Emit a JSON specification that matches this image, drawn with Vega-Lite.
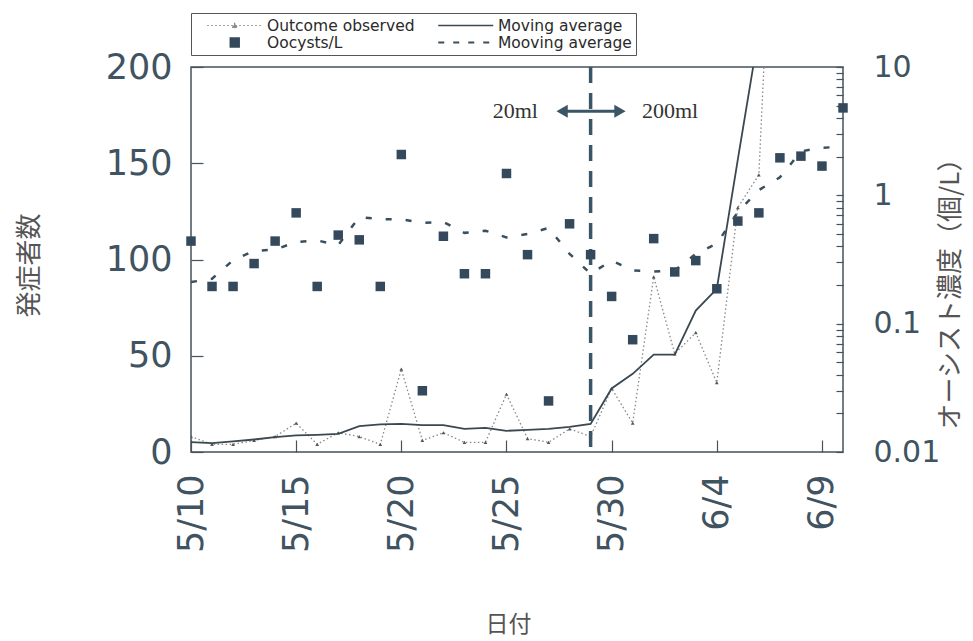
{
  "$schema": "https://vega.github.io/schema/vega-lite/v6.json",
  "width": 652,
  "height": 385,
  "autosize": {"type": "none"},
  "padding": {"left": 191, "top": 67, "right": 130, "bottom": 189},
  "background": "white",
  "config": {
    "view": {"stroke": "#44525c", "strokeWidth": 1.5},
    "font": "DejaVu Sans",
    "axis": {
      "domain": false,
      "grid": false,
      "labelFont": "DejaVu Sans",
      "labelFontSize": 30,
      "labelColor": "#3f5361",
      "tickColor": "#44525c",
      "tickWidth": 1.2,
      "titleFont": "Noto Sans CJK JP",
      "titleFontWeight": "normal",
      "titleFontSize": 26,
      "titleColor": "#555555",
      "labelFlush": false,
      "labelOverlap": false
    }
  },
  "datasets": {
    "obs": [
      {"date": "1996-05-10T00:00", "cases": 8},
      {"date": "1996-05-11T00:00", "cases": 4},
      {"date": "1996-05-12T00:00", "cases": 4},
      {"date": "1996-05-13T00:00", "cases": 6},
      {"date": "1996-05-14T00:00", "cases": 8},
      {"date": "1996-05-15T00:00", "cases": 15},
      {"date": "1996-05-16T00:00", "cases": 4},
      {"date": "1996-05-17T00:00", "cases": 10},
      {"date": "1996-05-18T00:00", "cases": 8},
      {"date": "1996-05-19T00:00", "cases": 4},
      {"date": "1996-05-20T00:00", "cases": 43},
      {"date": "1996-05-21T00:00", "cases": 6},
      {"date": "1996-05-22T00:00", "cases": 10},
      {"date": "1996-05-23T00:00", "cases": 5},
      {"date": "1996-05-24T00:00", "cases": 5},
      {"date": "1996-05-25T00:00", "cases": 30},
      {"date": "1996-05-26T00:00", "cases": 7},
      {"date": "1996-05-27T00:00", "cases": 5},
      {"date": "1996-05-28T00:00", "cases": 12},
      {"date": "1996-05-29T00:00", "cases": 8},
      {"date": "1996-05-30T00:00", "cases": 33},
      {"date": "1996-05-31T00:00", "cases": 15},
      {"date": "1996-06-01T00:00", "cases": 91},
      {"date": "1996-06-02T00:00", "cases": 51},
      {"date": "1996-06-03T00:00", "cases": 62},
      {"date": "1996-06-04T00:00", "cases": 36},
      {"date": "1996-06-05T00:00", "cases": 127},
      {"date": "1996-06-06T00:00", "cases": 144},
      {"date": "1996-06-07T00:00", "cases": 380}
    ],
    "ma": [
      {"date": "1996-05-10T00:00", "cases": 5.1},
      {"date": "1996-05-11T00:00", "cases": 4.6},
      {"date": "1996-05-12T00:00", "cases": 5.5},
      {"date": "1996-05-13T00:00", "cases": 6.5},
      {"date": "1996-05-14T00:00", "cases": 7.7},
      {"date": "1996-05-15T00:00", "cases": 8.6},
      {"date": "1996-05-16T00:00", "cases": 8.9},
      {"date": "1996-05-17T00:00", "cases": 9.4},
      {"date": "1996-05-18T00:00", "cases": 13.4},
      {"date": "1996-05-19T00:00", "cases": 14.3},
      {"date": "1996-05-20T00:00", "cases": 14.6},
      {"date": "1996-05-21T00:00", "cases": 14.0},
      {"date": "1996-05-22T00:00", "cases": 14.0},
      {"date": "1996-05-23T00:00", "cases": 12.0},
      {"date": "1996-05-24T00:00", "cases": 12.5},
      {"date": "1996-05-25T00:00", "cases": 11.0},
      {"date": "1996-05-26T00:00", "cases": 11.5},
      {"date": "1996-05-27T00:00", "cases": 12.0},
      {"date": "1996-05-28T00:00", "cases": 13.0},
      {"date": "1996-05-29T00:00", "cases": 14.6},
      {"date": "1996-05-30T00:00", "cases": 33},
      {"date": "1996-05-31T00:00", "cases": 40.6},
      {"date": "1996-06-01T00:00", "cases": 50.6},
      {"date": "1996-06-02T00:00", "cases": 50.6},
      {"date": "1996-06-03T00:00", "cases": 73.5},
      {"date": "1996-06-04T00:00", "cases": 84.8},
      {"date": "1996-06-05T00:00", "cases": 152},
      {"date": "1996-06-06T00:00", "cases": 218},
      {"date": "1996-06-07T00:00", "cases": 285}
    ],
    "ooc": [
      {"date": "1996-05-10T00:00", "oocysts": 0.44},
      {"date": "1996-05-11T00:00", "oocysts": 0.195},
      {"date": "1996-05-12T00:00", "oocysts": 0.195},
      {"date": "1996-05-13T00:00", "oocysts": 0.294},
      {"date": "1996-05-14T00:00", "oocysts": 0.44},
      {"date": "1996-05-15T00:00", "oocysts": 0.73},
      {"date": "1996-05-16T00:00", "oocysts": 0.195},
      {"date": "1996-05-17T00:00", "oocysts": 0.49},
      {"date": "1996-05-18T00:00", "oocysts": 0.45},
      {"date": "1996-05-19T00:00", "oocysts": 0.195},
      {"date": "1996-05-20T00:00", "oocysts": 2.08},
      {"date": "1996-05-21T00:00", "oocysts": 0.03},
      {"date": "1996-05-22T00:00", "oocysts": 0.48},
      {"date": "1996-05-23T00:00", "oocysts": 0.245},
      {"date": "1996-05-24T00:00", "oocysts": 0.245},
      {"date": "1996-05-25T00:00", "oocysts": 1.48},
      {"date": "1996-05-26T00:00", "oocysts": 0.345},
      {"date": "1996-05-27T00:00", "oocysts": 0.025},
      {"date": "1996-05-28T00:00", "oocysts": 0.6},
      {"date": "1996-05-29T00:00", "oocysts": 0.345},
      {"date": "1996-05-30T00:00", "oocysts": 0.163},
      {"date": "1996-05-31T00:00", "oocysts": 0.075},
      {"date": "1996-06-01T00:00", "oocysts": 0.46},
      {"date": "1996-06-02T00:00", "oocysts": 0.253},
      {"date": "1996-06-03T00:00", "oocysts": 0.31},
      {"date": "1996-06-04T00:00", "oocysts": 0.187},
      {"date": "1996-06-05T00:00", "oocysts": 0.63},
      {"date": "1996-06-06T00:00", "oocysts": 0.73},
      {"date": "1996-06-07T00:00", "oocysts": 1.96},
      {"date": "1996-06-08T00:00", "oocysts": 2.02},
      {"date": "1996-06-09T00:00", "oocysts": 1.69},
      {"date": "1996-06-10T00:00", "oocysts": 4.8}
    ],
    "oocma": [
      {"date": "1996-05-10T00:00", "oocysts": 0.211},
      {"date": "1996-05-11T00:00", "oocysts": 0.224},
      {"date": "1996-05-12T00:00", "oocysts": 0.312},
      {"date": "1996-05-13T00:00", "oocysts": 0.369},
      {"date": "1996-05-14T00:00", "oocysts": 0.378},
      {"date": "1996-05-15T00:00", "oocysts": 0.433},
      {"date": "1996-05-16T00:00", "oocysts": 0.445},
      {"date": "1996-05-17T00:00", "oocysts": 0.41},
      {"date": "1996-05-18T00:00", "oocysts": 0.679},
      {"date": "1996-05-19T00:00", "oocysts": 0.65},
      {"date": "1996-05-20T00:00", "oocysts": 0.65},
      {"date": "1996-05-21T00:00", "oocysts": 0.61},
      {"date": "1996-05-22T00:00", "oocysts": 0.62},
      {"date": "1996-05-23T00:00", "oocysts": 0.51},
      {"date": "1996-05-24T00:00", "oocysts": 0.53},
      {"date": "1996-05-25T00:00", "oocysts": 0.47},
      {"date": "1996-05-26T00:00", "oocysts": 0.5},
      {"date": "1996-05-27T00:00", "oocysts": 0.557},
      {"date": "1996-05-28T00:00", "oocysts": 0.35},
      {"date": "1996-05-29T00:00", "oocysts": 0.245},
      {"date": "1996-05-30T00:00", "oocysts": 0.31},
      {"date": "1996-05-31T00:00", "oocysts": 0.26},
      {"date": "1996-06-01T00:00", "oocysts": 0.255},
      {"date": "1996-06-02T00:00", "oocysts": 0.26},
      {"date": "1996-06-03T00:00", "oocysts": 0.35},
      {"date": "1996-06-04T00:00", "oocysts": 0.42},
      {"date": "1996-06-05T00:00", "oocysts": 0.74},
      {"date": "1996-06-06T00:00", "oocysts": 1.1},
      {"date": "1996-06-07T00:00", "oocysts": 1.38},
      {"date": "1996-06-08T00:00", "oocysts": 2.2},
      {"date": "1996-06-09T00:00", "oocysts": 2.35},
      {"date": "1996-06-10T00:00", "oocysts": 2.39}
    ],
    "switch": [{"date": "1996-05-29T00:00"}],
    "arrow": [{"start": "1996-05-27T15:30", "end": "1996-05-30T09:30", "cases": 177}],
    "notes": [
      {"date": "1996-05-25T10:00", "cases": 177, "label": "20ml"},
      {"date": "1996-06-01T18:40", "cases": 177, "label": "200ml"}
    ]
  },
  "encoding": {
    "x": {
      "field": "date",
      "type": "temporal",
      "scale": {"domain": [{"year": 1996, "month": 5, "date": 10}, {"year": 1996, "month": 6, "date": 10}]},
      "axis": {
        "title": "日付",
        "format": "%-m/%-d",
        "values": [
          {"year": 1996, "month": 5, "date": 10},
          {"year": 1996, "month": 5, "date": 15},
          {"year": 1996, "month": 5, "date": 20},
          {"year": 1996, "month": 5, "date": 25},
          {"year": 1996, "month": 5, "date": 30},
          {"year": 1996, "month": 6, "date": 4},
          {"year": 1996, "month": 6, "date": 9}
        ],
        "labelAngle": -90,
        "labelFontSize": 35,
        "tickSize": -12,
        "labelPadding": 34,
        "titleFontSize": 23,
        "titleX": 317,
        "titleY": 172,
        "titleBaseline": "middle",
        "titleAlign": "center"
      }
    }
  },
  "resolve": {"scale": {"y": "independent"}},
  "layer": [
    {
      "layer": [
        {
          "data": {"name": "obs"},
          "mark": {"type": "line", "strokeDash": [1.5, 2.5], "strokeWidth": 1.3, "clip": true},
          "encoding": {
            "y": {
              "field": "cases",
              "type": "quantitative",
              "scale": {"domain": [0, 200], "nice": false, "zero": false},
              "axis": {
                "title": "発症者数",
                "values": [0, 50, 100, 150, 200],
                "labelFontSize": 35,
                "tickSize": -12,
                "labelPadding": 31,
                "titleX": -162,
                "titleY": 198,
                "titleAngle": -90,
                "titleBaseline": "middle",
                "titleAlign": "center"
              }
            },
            "color": {
              "datum": "Outcome observed",
              "type": "nominal",
              "scale": {
                "domain": ["Outcome observed", "Oocysts/L", "Moving average", "Mooving average"],
                "range": ["#888888", "#34495b", "#3a4852", "#3a4f5e"]
              },
              "legend": {
                "title": null,
                "orient": "none",
                "legendX": 0,
                "legendY": -54,
                "columns": 2,
                "direction": "vertical",
                "gridAlign": "all",
                "symbolSize": 3025,
                "clipHeight": 17,
                "rowPadding": 0,
                "columnPadding": 11,
                "padding": 4,
                "symbolOffset": 32,
                "labelOffset": 24.5,
                "labelFont": "DejaVu Sans",
                "labelFontSize": 15.5,
                "labelColor": "#2a2a2a",
                "labelLimit": 300,
                "strokeColor": "#555555",
                "fillColor": "white",
                "encode": {
                  "symbols": {
                    "update": {
                      "shape": {"signal": "datum.value === 'Outcome observed' ? 'M-1,0H1M-0.09,0.08L0,-0.08L0.09,0.08Z' : (datum.value === 'Oocysts/L' ? 'M-0.16,-0.16H0.16V0.16H-0.16Z' : 'M-1,0H1')"},
                      "strokeDash": {"signal": "datum.value === 'Outcome observed' ? [1.5, 2.5] : (datum.value === 'Mooving average' ? [6, 9] : [1, 0])"},
                      "stroke": {"signal": "datum.value === 'Outcome observed' ? '#777777' : '#34495b'"},
                      "fill": {"value": "#34495b"},
                      "strokeWidth": {"signal": "datum.value === 'Mooving average' ? 2.2 : (datum.value === 'Outcome observed' ? 1.2 : 1.6)"},
                      "opacity": {"value": 1},
                      "size": {"value": 3025}
                    }
                  }
                }
              }
            }
          }
        },
        {
          "data": {"name": "obs"},
          "mark": {"type": "point", "shape": "triangle-up", "filled": true, "size": 14, "color": "#555555", "opacity": 1, "clip": true},
          "encoding": {
            "y": {"field": "cases", "type": "quantitative", "scale": {"domain": [0, 200], "nice": false, "zero": false}}
          }
        },
        {
          "data": {"name": "ma"},
          "mark": {"type": "line", "strokeWidth": 1.8, "clip": true},
          "encoding": {
            "y": {"field": "cases", "type": "quantitative", "scale": {"domain": [0, 200], "nice": false, "zero": false}},
            "color": {
              "datum": "Moving average",
              "type": "nominal",
              "scale": {
                "domain": ["Outcome observed", "Oocysts/L", "Moving average", "Mooving average"],
                "range": ["#888888", "#34495b", "#3a4852", "#3a4f5e"]
              }
            }
          }
        },
        {
          "data": {"name": "switch"},
          "mark": {"type": "rule", "strokeDash": [16, 10], "strokeWidth": 3.5, "color": "#3a5566"},
          "encoding": {}
        },
        {
          "data": {"name": "arrow"},
          "mark": {"type": "rule", "strokeWidth": 3, "color": "#3a5566"},
          "encoding": {
            "x": {"field": "start", "type": "temporal", "scale": {"domain": [{"year": 1996, "month": 5, "date": 10}, {"year": 1996, "month": 6, "date": 10}]}},
            "x2": {"field": "end"},
            "y": {"field": "cases", "type": "quantitative", "scale": {"domain": [0, 200], "nice": false, "zero": false}}
          }
        },
        {
          "data": {"name": "arrow"},
          "mark": {"type": "point", "shape": "triangle-left", "filled": true, "size": 170, "color": "#3a5566", "opacity": 1},
          "encoding": {
            "x": {"field": "start", "type": "temporal", "scale": {"domain": [{"year": 1996, "month": 5, "date": 10}, {"year": 1996, "month": 6, "date": 10}]}},
            "y": {"field": "cases", "type": "quantitative", "scale": {"domain": [0, 200], "nice": false, "zero": false}}
          }
        },
        {
          "data": {"name": "arrow"},
          "mark": {"type": "point", "shape": "triangle-right", "filled": true, "size": 170, "color": "#3a5566", "opacity": 1},
          "encoding": {
            "x": {"field": "end", "type": "temporal", "scale": {"domain": [{"year": 1996, "month": 5, "date": 10}, {"year": 1996, "month": 6, "date": 10}]}},
            "y": {"field": "cases", "type": "quantitative", "scale": {"domain": [0, 200], "nice": false, "zero": false}}
          }
        },
        {
          "data": {"name": "notes"},
          "mark": {"type": "text", "font": "Liberation Serif", "fontSize": 22, "color": "#333333", "align": "center", "baseline": "middle"},
          "encoding": {
            "y": {"field": "cases", "type": "quantitative", "scale": {"domain": [0, 200], "nice": false, "zero": false}},
            "text": {"field": "label"}
          }
        }
      ]
    },
    {
      "layer": [
        {
          "data": {"name": "ooc"},
          "mark": {"type": "square", "size": 90, "opacity": 1},
          "encoding": {
            "y": {
              "field": "oocysts",
              "type": "quantitative",
              "scale": {"type": "log", "domain": [0.01, 10], "nice": false},
              "axis": {
                "orient": "right",
                "title": "オーシスト濃度（個/L）",
                "values": [0.01, 0.02, 0.03, 0.04, 0.05, 0.06, 0.07, 0.08, 0.09, 0.1, 0.2, 0.3, 0.4, 0.5, 0.6, 0.7, 0.8, 0.9, 1, 2, 3, 4, 5, 6, 7, 8, 9, 10],
                "format": "~g",
                "labelExpr": "(datum.value == 0.01 || datum.value == 0.1 || datum.value == 1 || datum.value == 10) ? datum.label : ''",
                "tickSize": -7,
                "labelPadding": 37,
                "titleX": 107,
                "titleY": 220,
                "titleAngle": -90,
                "titleBaseline": "middle",
                "titleAlign": "center"
              }
            },
            "color": {
              "datum": "Oocysts/L",
              "type": "nominal",
              "scale": {
                "domain": ["Outcome observed", "Oocysts/L", "Moving average", "Mooving average"],
                "range": ["#888888", "#34495b", "#3a4852", "#3a4f5e"]
              }
            }
          }
        },
        {
          "data": {"name": "oocma"},
          "mark": {"type": "line", "strokeDash": [6, 14], "strokeWidth": 2.5, "clip": true},
          "encoding": {
            "y": {"field": "oocysts", "type": "quantitative", "scale": {"type": "log", "domain": [0.01, 10], "nice": false}},
            "color": {
              "datum": "Mooving average",
              "type": "nominal",
              "scale": {
                "domain": ["Outcome observed", "Oocysts/L", "Moving average", "Mooving average"],
                "range": ["#888888", "#34495b", "#3a4852", "#3a4f5e"]
              }
            }
          }
        }
      ]
    }
  ]
}
